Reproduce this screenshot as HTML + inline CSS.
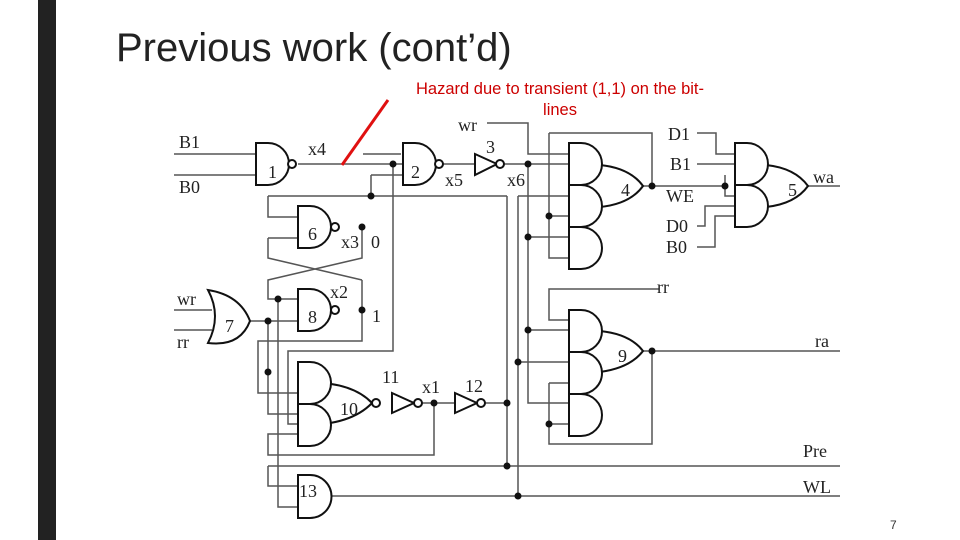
<!DOCTYPE html>
<html><head><meta charset="utf-8"><style>
body{margin:0;width:960px;height:540px;background:#fff;overflow:hidden;position:relative;font-family:"Liberation Sans",sans-serif}
.bar{position:absolute;left:38px;top:0;width:18px;height:540px;background:#222}
.t{position:absolute;left:116px;top:26px;font-size:40px;color:#222}
.r{position:absolute;left:380px;top:79px;width:360px;text-align:center;color:#c00;font-size:16.5px;line-height:21px}
.pg{position:absolute;left:890px;top:518px;font-size:12px;color:#333}
svg{position:absolute;left:0;top:0}
</style></head><body>
<div class="bar"></div>
<div class="t">Previous work (cont’d)</div>
<div class="r">Hazard due to transient (1,1) on the bit-<br>lines</div>
<div class="pg">7</div>
<svg width="960" height="540" viewBox="0 0 960 540">
<g fill="none" stroke="#555" stroke-width="1.5">
<path d="M174 154H256M174 175H256M298 164H403M363 154H401M393 164V351H288V424H298M371 175H403M371 175V196M268 196H507M268 196V217H298M268 238H298M268 238V258L362 280M362 227V258L268 280V299H298M362 280V341H258V393H298M247 321H298M268 321V414H298M278 299V507H298M434 403V455H268V434H298M268 466H840M268 466V486H298M330 496H840M507 196V466M518 196V496M518 196H569"/>
<path d="M487 123H528V154H569M500 164H569M528 164V403H569M549 133H652V186M549 133V258H569M549 216H569M528 237H569M643 186H725M697 133H716V154H735M697 164H735M725 175V196H735M697 226H705V206H735M697 247H715V216H735M808 186H840M659 289H549V320H569M528 330H569M518 362H569M549 383H569M549 383V444H652V351M549 424H569M643 351H840M174 310H212M174 330H212M435 164H475M418 403H455M481 403H507"/>
</g>
<g fill="#fff" stroke="#111" stroke-width="2">
<path d="M256 143H268A21 21 0 0 1 268 185H256Z"/><circle cx="292" cy="164" r="4"/>
<path d="M403 143H415A21 21 0 0 1 415 185H403Z"/><circle cx="439" cy="164" r="4"/>
<path d="M298 206H310A21 21 0 0 1 310 248H298Z"/><circle cx="335" cy="227" r="4"/>
<path d="M298 289H310A21 21 0 0 1 310 331H298Z"/><circle cx="335" cy="310" r="4"/>
<path d="M208 290Q240 295 250 321Q240 347 208 343Q222 316 208 290Z"/>
<path d="M475 154L497 164L475 175Z"/><circle cx="500" cy="164" r="4"/>
<path d="M392 393L414 403L392 413Z"/><circle cx="418" cy="403" r="4"/>
<path d="M455 393L477 403L455 413Z"/><circle cx="481" cy="403" r="4"/>
<path d="M298 475H310A21 21 0 0 1 310 518H298Z"/>
<path d="M300 383Q350 380 372 403Q350 426 300 425"/><circle cx="376" cy="403" r="4"/>
<path d="M298 362H310A21 21 0 0 1 310 404H298Z"/><path d="M298 404H310A21 21 0 0 1 310 446H298Z"/>
<path d="M600 165Q630 168 643 186Q630 204 600 207"/>
<path d="M569 143H581A21 21 0 0 1 581 185H569Z"/><path d="M569 185H581A21 21 0 0 1 581 227H569Z"/><path d="M569 227H581A21 21 0 0 1 581 269H569Z"/>
<path d="M600 331Q630 334 643 351Q630 368 600 372"/>
<path d="M569 310H581A21 21 0 0 1 581 352H569Z"/><path d="M569 352H581A21 21 0 0 1 581 394H569Z"/><path d="M569 394H581A21 21 0 0 1 581 436H569Z"/>
<path d="M766 165Q795 168 808 186Q795 204 766 207"/>
<path d="M735 143H747A21 21 0 0 1 747 185H735Z"/><path d="M735 185H747A21 21 0 0 1 747 227H735Z"/>
</g>
<g fill="#111">
<circle cx="393" cy="164" r="3.5"/><circle cx="371" cy="196" r="3.5"/><circle cx="362" cy="227" r="3.5"/><circle cx="362" cy="310" r="3.5"/><circle cx="278" cy="299" r="3.5"/><circle cx="268" cy="321" r="3.5"/><circle cx="268" cy="372" r="3.5"/><circle cx="434" cy="403" r="3.5"/><circle cx="507" cy="403" r="3.5"/><circle cx="507" cy="466" r="3.5"/><circle cx="518" cy="496" r="3.5"/><circle cx="528" cy="164" r="3.5"/><circle cx="549" cy="216" r="3.5"/><circle cx="528" cy="237" r="3.5"/><circle cx="652" cy="186" r="3.5"/><circle cx="725" cy="186" r="3.5"/><circle cx="528" cy="330" r="3.5"/><circle cx="518" cy="362" r="3.5"/><circle cx="549" cy="424" r="3.5"/><circle cx="652" cy="351" r="3.5"/>
</g>
<line x1="388" y1="100" x2="342" y2="165" stroke="#e01010" stroke-width="3"/>
<g font-family="Liberation Serif,serif" font-size="18" fill="#222">
<text x="179" y="148">B1</text><text x="179" y="193">B0</text><text x="308" y="155">x4</text><text x="268" y="178">1</text><text x="411" y="178">2</text><text x="445" y="186">x5</text><text x="458" y="131">wr</text><text x="486" y="153">3</text><text x="507" y="186">x6</text>
<text x="308" y="240">6</text><text x="341" y="248">x3</text><text x="371" y="248">0</text><text x="330" y="298">x2</text><text x="308" y="323">8</text><text x="372" y="322">1</text>
<text x="177" y="305">wr</text><text x="177" y="348">rr</text><text x="225" y="332">7</text>
<text x="382" y="383">11</text><text x="422" y="393">x1</text><text x="465" y="392">12</text><text x="340" y="415">10</text><text x="299" y="497">13</text>
<text x="621" y="196">4</text><text x="618" y="362">9</text><text x="788" y="196">5</text>
<text x="668" y="140">D1</text><text x="670" y="170">B1</text><text x="666" y="202">WE</text><text x="666" y="232">D0</text><text x="666" y="253">B0</text>
<text x="813" y="183">wa</text><text x="657" y="293">rr</text><text x="815" y="347">ra</text><text x="803" y="457">Pre</text><text x="803" y="493">WL</text>
</g>
</svg>
</body></html>
